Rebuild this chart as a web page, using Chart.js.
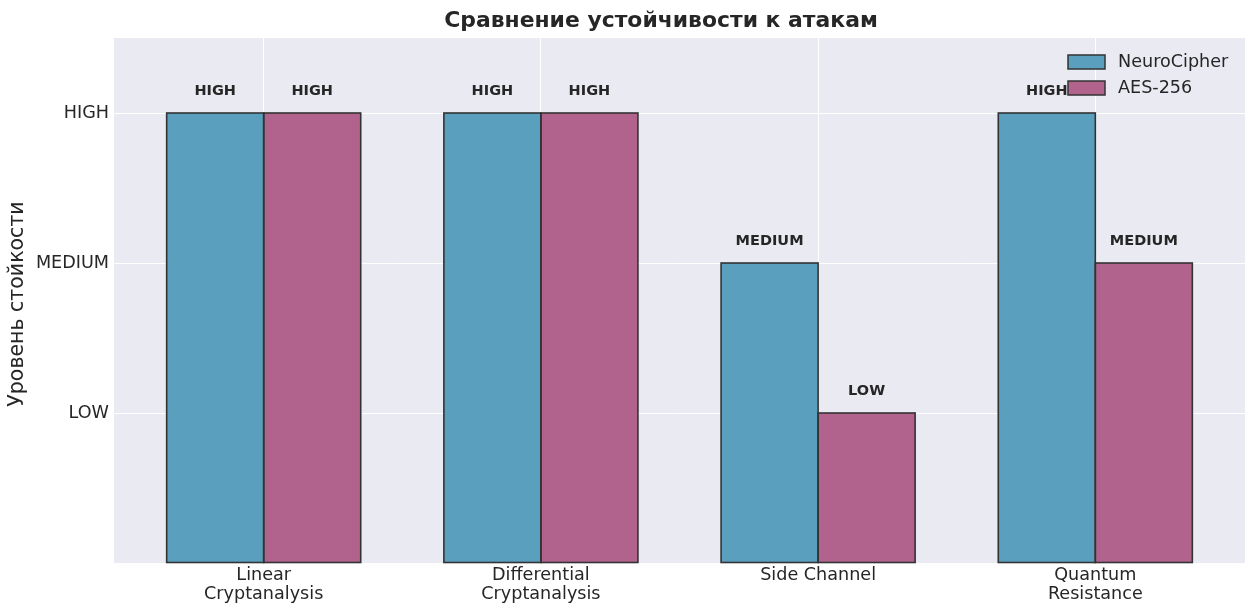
<!DOCTYPE html>
<html>
<head>
<meta charset="utf-8">
<script src="https://cdn.jsdelivr.net/npm/chart.js@4/dist/chart.umd.min.js"></script>
<style>
  html, body { margin: 0; padding: 0; background: #ffffff; }
  #wrap { width: 1252px; height: 605px; position: relative; }
</style>
</head>
<body>
<div id="wrap"><canvas id="chart" width="1252" height="605"></canvas></div>
<script>
// Attack categories (x axis), one entry per group of bars
const categories = [
  ['Linear', 'Cryptanalysis'],
  ['Differential', 'Cryptanalysis'],
  ['Side Channel'],
  ['Quantum', 'Resistance']
];
// Resistance level names, indexed by level - 1
const levelNames = ['LOW', 'MEDIUM', 'HIGH'];
// Resistance level per category (1 = LOW, 2 = MEDIUM, 3 = HIGH)
const neuroCipher = [3, 3, 2, 3];
const aes256 = [3, 3, 1, 2];

const seriesNames = ['NeuroCipher', 'AES-256'];
const seriesColors = ['rgb(90,160,190)', 'rgb(177,99,142)'];
const edgeColor = '#333333';
const textColor = '#262626';
const FONT = '"DejaVu Sans", "Liberation Sans", sans-serif';

function toPoints(values) {
  return values.map((v, i) => ({ x: i, y: v }));
}

// Axes background
const backgroundPlugin = {
  id: 'plotBackground',
  beforeDraw(chart) {
    const { ctx, chartArea: a } = chart;
    ctx.save();
    ctx.fillStyle = '#EAEAF2';
    ctx.fillRect(a.left, a.top, a.right - a.left, a.bottom - a.top);
    ctx.restore();
  }
};

// Bar outlines centred on the bar edges, then the level name above each bar
const valueLabelPlugin = {
  id: 'valueLabels',
  afterDatasetsDraw(chart) {
    const { ctx } = chart;
    const y = chart.scales.y;
    ctx.save();
    ctx.strokeStyle = edgeColor;
    ctx.lineWidth = 1.6;
    chart.data.datasets.forEach((ds, di) => {
      chart.getDatasetMeta(di).data.forEach((bar) => {
        ctx.strokeRect(bar.x - bar.width / 2, bar.y, bar.width, bar.base - bar.y);
      });
    });
    ctx.font = 'bold 14.5px ' + FONT;
    ctx.fillStyle = textColor;
    ctx.textAlign = 'center';
    ctx.textBaseline = 'alphabetic';
    chart.data.datasets.forEach((ds, di) => {
      const meta = chart.getDatasetMeta(di);
      meta.data.forEach((bar, i) => {
        const v = ds.data[i].y;
        ctx.fillText(levelNames[v - 1], bar.x, y.getPixelForValue(v + 0.1) - 3.4);
      });
    });
    ctx.restore();
  }
};

// Titles and legend
const decorPlugin = {
  id: 'decor',
  afterDraw(chart) {
    const { ctx } = chart;
    ctx.save();
    // main title
    ctx.font = 'bold 21.9px ' + FONT;
    ctx.fillStyle = textColor;
    ctx.textAlign = 'center';
    ctx.textBaseline = 'middle';
    ctx.fillText('Сравнение устойчивости к атакам', 661, 21);
    // y axis title
    ctx.save();
    ctx.translate(18, 304);
    ctx.rotate(-Math.PI / 2);
    ctx.font = '20.5px ' + FONT;
    ctx.fillText('Уровень стойкости', 0, 0);
    ctx.restore();
    // legend
    ctx.font = '17.6px ' + FONT;
    ctx.textAlign = 'left';
    seriesNames.forEach((name, i) => {
      const cy = 62 + i * 26;
      ctx.fillStyle = seriesColors[i];
      ctx.fillRect(1068, cy - 7, 37, 14);
      ctx.strokeStyle = edgeColor;
      ctx.lineWidth = 1.5;
      ctx.strokeRect(1068, cy - 7, 37, 14);
      ctx.fillStyle = textColor;
      ctx.fillText(name, 1118, cy);
    });
    ctx.restore();
  }
};

new Chart(document.getElementById('chart'), {
  type: 'bar',
  data: {
    datasets: [
      {
        label: seriesNames[0],
        data: toPoints(neuroCipher),
        backgroundColor: seriesColors[0],
        borderWidth: 0
      },
      {
        label: seriesNames[1],
        data: toPoints(aes256),
        backgroundColor: seriesColors[1],
        borderWidth: 0
      }
    ]
  },
  options: {
    responsive: false,
    animation: false,
    categoryPercentage: 0.7,
    barPercentage: 1.0,
    layout: { padding: { left: 0, right: 7, top: 38, bottom: 0 } },
    plugins: {
      legend: { display: false },
      tooltip: { enabled: false },
      title: { display: false }
    },
    scales: {
      x: {
        type: 'linear',
        min: -0.54,
        max: 3.54,
        offset: false,
        border: { display: false },
        grid: {
          offset: false,
          lineWidth: 1,
          drawTicks: false,
          color: (c) => (c.tick && Number.isInteger(c.tick.value) && c.tick.value >= 0 && c.tick.value <= 3) ? '#ffffff' : 'rgba(0,0,0,0)'
        },
        ticks: {
          stepSize: 1,
          includeBounds: false,
          autoSkip: false,
          maxRotation: 0,
          padding: 3,
          color: textColor,
          font: { family: FONT, size: 17.6, lineHeight: '19px' },
          callback: (v) => (Number.isInteger(v) && categories[v]) ? categories[v] : ''
        },
        afterFit(scale) { scale.height = 42; }
      },
      y: {
        min: 0,
        max: 3.5,
        border: { display: false },
        grid: {
          lineWidth: 1,
          drawTicks: false,
          color: (c) => (c.tick && c.tick.value === 0) ? 'rgba(0,0,0,0)' : '#ffffff'
        },
        ticks: {
          stepSize: 1,
          includeBounds: false,
          padding: 5,
          color: textColor,
          font: { family: FONT, size: 17.6 },
          callback: (v) => (Number.isInteger(v) && v >= 1 && v <= 3) ? levelNames[v - 1] : ''
        },
        afterFit(scale) { scale.width = 114; }
      }
    }
  },
  plugins: [backgroundPlugin, valueLabelPlugin, decorPlugin]
});
</script>
</body>
</html>
